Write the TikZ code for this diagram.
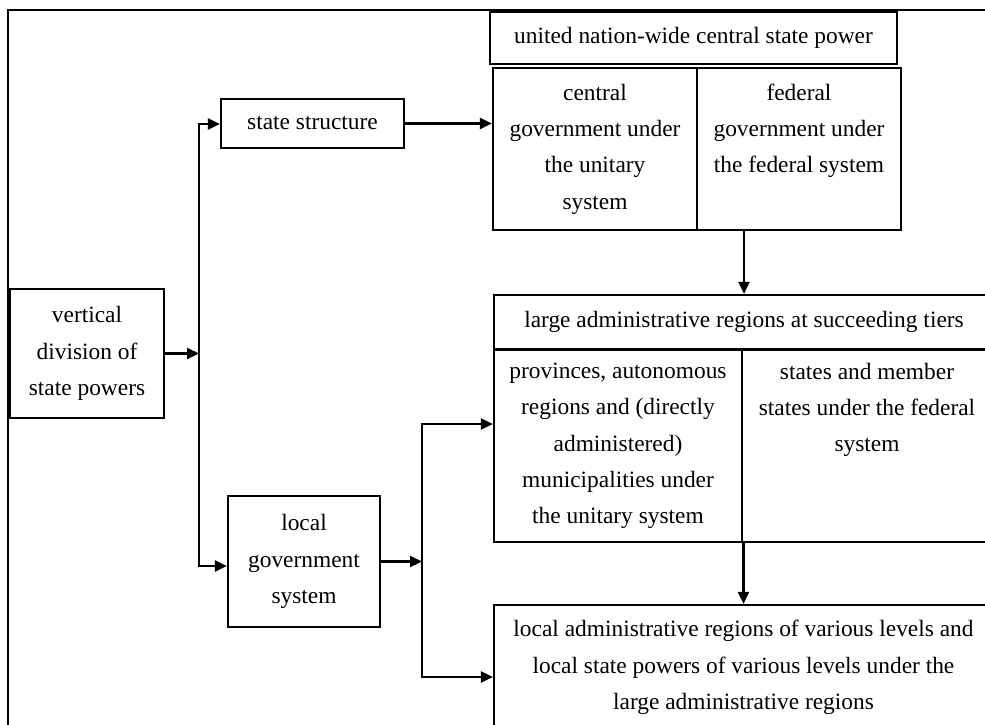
\documentclass[tikz,border=0pt]{standalone}
\usepackage{fontspec}
\setmainfont{Liberation Serif}
\usetikzlibrary{arrows.meta, positioning, calc}

\begin{document}
\begin{tikzpicture}[x=1pt, y=-1pt, line width=2.2pt,
    >={Triangle[length=12pt,width=11pt]},
    box/.style={draw, inner sep=0pt, align=center},
    font=\fontsize{23.4}{36.3}\selectfont]
    \useasboundingbox (0,0) rectangle (985,724);
    \clip (0,0) rectangle (985,724);
    % frame
    \draw (8,740) -- (8,10) -- (1000,10);
    % left column
    \node[box, minimum width=154, minimum height=129] (ver) at (87,353.5)
          {vertical\\division of\\state powers};
    \node[box, minimum width=183, minimum height=49] (stru) at (312.5,123.5)
          {state structure};
    \node[box, minimum width=152, minimum height=131] (gov) at (304,561.5)
          {local\\government\\system};
    % central level
    \node[box, minimum width=407, minimum height=52] (uni) at (693.5,38)
          {united nation-wide central state power};
    \node[box, minimum width=204, minimum height=162] (cen) at (595,149)
          {central\\government under\\the unitary\\system};
    \node[box, minimum width=204, minimum height=162] (fed) at (799,149)
          {federal\\government under\\the federal system\\\phantom{y}};
    % large regions
    \node[box, minimum width=500, minimum height=54] (lar) at (744,322)
          {large administrative regions at succeeding tiers};
    \node[box, minimum width=248, minimum height=192] (pro) at (618,446)
          {provinces, autonomous\\regions and (directly\\administered)\\municipalities under\\the unitary system};
    \node[box, minimum width=250, minimum height=192] (sta) at (867,446)
          {states and member\\states under the federal\\system\\\phantom{y}\\\phantom{y}};
    % local regions
    \node[box, minimum width=499, minimum height=125] (loc) at (743.5,667.5)
          {local administrative regions of various levels and\\local state powers of various levels under the\\large administrative regions};
    % connectors
    \coordinate (up) at (199,124);
    \coordinate (dn) at (199,566);
    \coordinate (b1) at (422,424);
    \coordinate (b2) at (422,677);
    \draw[->] (ver.east) -- (ver.east -| up);
    \draw[<->] (up -| stru.west) -- (up) -- (dn) -- (dn -| gov.west);
    \draw[->] (stru.east) -- (stru.east -| cen.west);
    \draw[->] (gov.east) -- (gov.east -| b1);
    \draw[<->] (b1 -| pro.west) -- (b1) -- (b2) -- (b2 -| loc.west);
    \draw[->] (fed.south -| lar.north) -- (lar.north);
    \draw[->] (pro.south -| loc.north) -- (loc.north);
\end{tikzpicture}
\end{document}
